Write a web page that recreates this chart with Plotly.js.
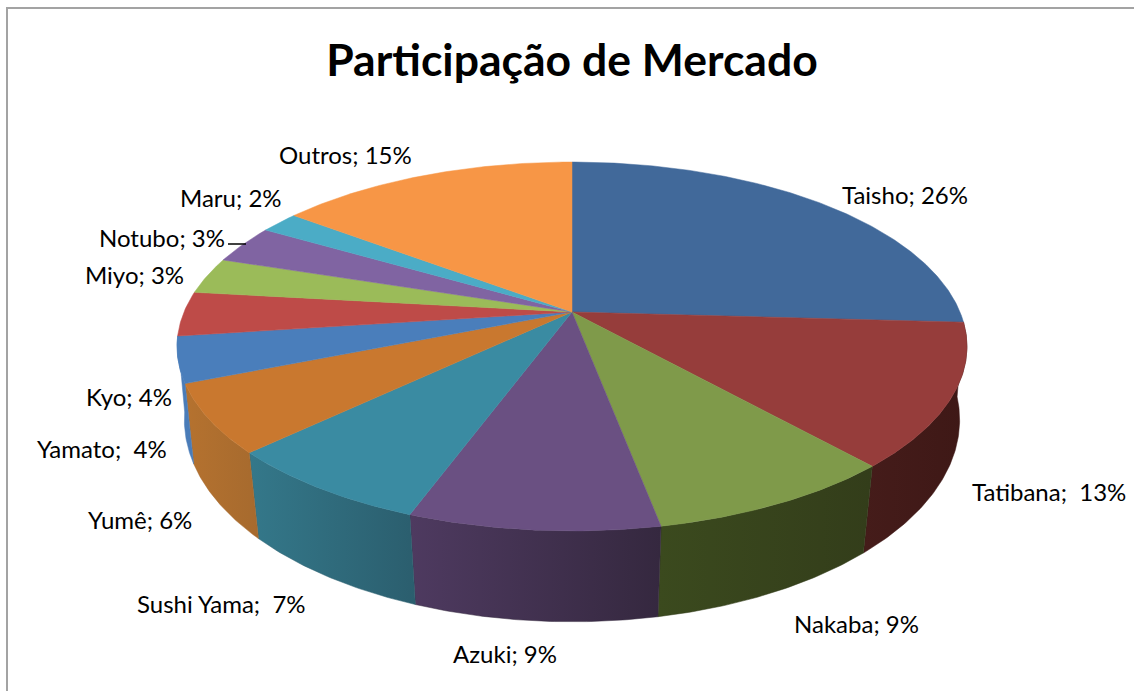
<!DOCTYPE html>
<html>
<head>
<meta charset="utf-8">
<script src="https://cdn.plot.ly/plotly-3.0.1.min.js"></script>
<style>html,body{margin:0;padding:0;background:#fff}#chart{width:1134px;height:691px}</style>
</head>
<body>
<div id="chart"></div>
<script>
const categories = ['Taisho','Tatibana','Nakaba','Azuki','Sushi Yama','Yumê','Yamato','Kyo','Miyo','Notubo','Maru','Outros'];
const shares = [25.9,12.5,8.6,8.6,7.3,6.0,4.0,3.9,3.2,3.4,1.9,14.7];
const topColors = ['#41699A','#963D3B','#7F9A4A','#6A5082','#3A8BA2','#C9782F','#4A7EBB','#BE4B48','#9BBB59','#8064A2','#4BACC6','#F79646'];
const wallColors = [null,['#451C1A','#3E1816'],['#3B4A1E','#333D1A'],['#4E3A60','#35283F'],['#34788A','#2B5E6E'],['#B5722F','#A66A2E'],['#4A7CB8','#4A7CB8'],null,null,null,null,null];
const labelSeparators = ['; ',';\u00A0 ','; ','; ',';\u00A0 ','; ',';\u00A0 ','; ','; ','; ','; ','; '];
const labelX = [841,971,793,452,136,87,36,85,84,98,179,278];
const labelY = [194,491,623,653,603,519,448,396,274,237,197,154];
const titleText = 'Participação de Mercado';

// Perspective projection of the pie's top and bottom discs onto the chart's axes
const topDisc = {cx:572, cy:312, a:388, b:178, p:0.187};
const bottomDisc = {cx:572, cy:385.6, a:382, b:196, p:0.17};
function project(d, theta, r) {
  const u = r*Math.sin(theta), v = -r*Math.cos(theta), w = 1 - d.p*v;
  return [d.cx + d.a*u/w, d.cy + d.b*v/w];
}
function arc(d, t0, t1) {
  const n = Math.max(4, Math.ceil(Math.abs(t1-t0)/0.01)), pts = [];
  for (let i=0;i<=n;i++) pts.push(project(d, t0+(t1-t0)*i/n, 1));
  return pts;
}
const total = shares.reduce((a,b)=>a+b,0);
let cum = 0;
const slices = shares.map(s => { const t0 = cum/total*2*Math.PI; cum += s; return [t0, cum/total*2*Math.PI]; });

const traces = [];
slices.forEach((sl,i) => {
  if (!wallColors[i]) return;
  const pts = arc(topDisc, sl[0], sl[1]).concat(arc(bottomDisc, sl[1], sl[0]));
  pts.push(pts[0]);
  traces.push({type:'scatter', mode:'lines', x:pts.map(p=>p[0]), y:pts.map(p=>p[1]),
    fill:'toself', line:{width:0.5, color:wallColors[i][1]},
    fillgradient:{type:'horizontal', colorscale:[[0,wallColors[i][0]],[1,wallColors[i][1]]]},
    name:categories[i], hoverinfo:'name', showlegend:false});
});
slices.forEach((sl,i) => {
  const c = project(topDisc, 0, 0);
  const pts = [c].concat(arc(topDisc, sl[0], sl[1]), [c]);
  traces.push({type:'scatter', mode:'lines', x:pts.map(p=>p[0]), y:pts.map(p=>p[1]),
    fill:'toself', fillcolor:topColors[i], line:{width:0.5, color:topColors[i]},
    name:categories[i], hoverinfo:'name', showlegend:false});
});

const font = {family:'Lato, "Open Sans", sans-serif', color:'#000', size:24};
const annotations = categories.map((c,i) => ({
  x:labelX[i], y:labelY[i], xref:'x', yref:'y', xanchor:'left', yanchor:'middle', showarrow:false,
  borderpad:0, font:font, text:c + labelSeparators[i] + Math.round(shares[i]) + '%'
}));

const layout = {
  width:1134, height:691, margin:{l:0,r:0,t:0,b:0}, paper_bgcolor:'#fff', plot_bgcolor:'#fff', showlegend:false,
  title:{text:'<b>'+titleText+'</b>', x:572/1134, xanchor:'center', y:1-60/691, yanchor:'middle',
    font:{family:font.family, size:44.5, color:'#000'}},
  xaxis:{range:[0,1134], visible:false, fixedrange:true},
  yaxis:{range:[691,0], visible:false, fixedrange:true},
  annotations:annotations,
  shapes:[
    {type:'line', xref:'x', yref:'y', x0:7, x1:7, y0:8, y1:691, line:{color:'#A3A3A3', width:2}},
    {type:'line', xref:'x', yref:'y', x0:6, x1:1134, y0:8, y1:8, line:{color:'#A3A3A3', width:2}},
    {type:'line', xref:'x', yref:'y', x0:228, x1:246, y0:244, y1:244, line:{color:'#000', width:1.5}}
  ]
};
Plotly.newPlot('chart', traces, layout, {displayModeBar:false, responsive:false});
</script>
</body>
</html>
